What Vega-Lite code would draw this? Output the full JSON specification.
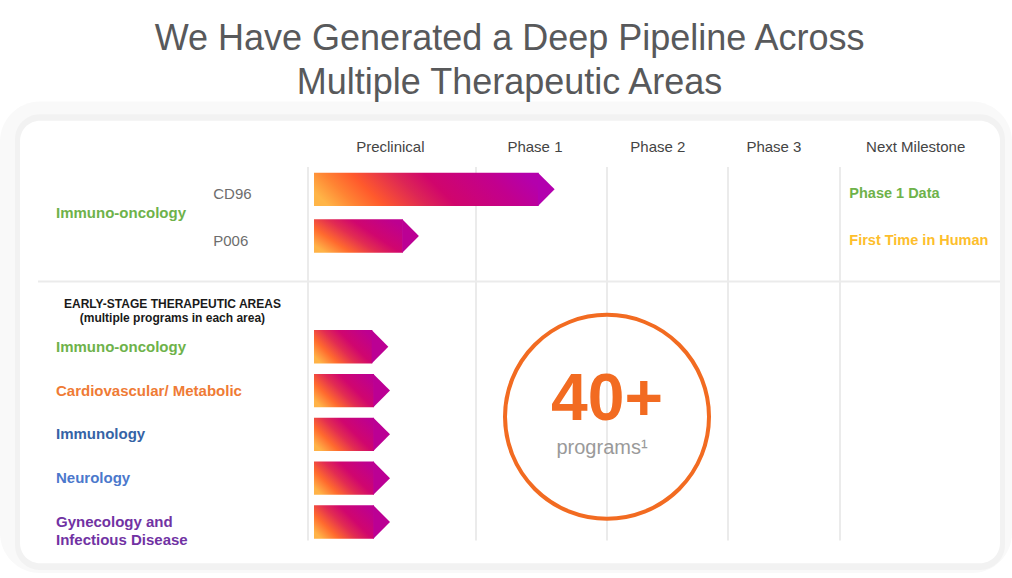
{
  "$schema": "https://vega.github.io/schema/vega-lite/v6.json",
  "width": 1012,
  "height": 578,
  "padding": 0,
  "autosize": {"type": "none"},
  "background": "#ffffff",
  "config": {"view": {"stroke": null}, "font": "Liberation Sans", "text": {"font": "Liberation Sans"}},
  "datasets": {
    "phases": [
      {"phase": "Preclinical", "boundary": 0, "headerPos": 0.49},
      {"phase": "Phase 1", "boundary": 1, "headerPos": 1.45},
      {"phase": "Phase 2", "boundary": 2, "headerPos": 2.42},
      {"phase": "Phase 3", "boundary": 3, "headerPos": 3.41},
      {"phase": "Next Milestone", "boundary": 4, "headerPos": 4.44}
    ],
    "arrows": [
      {"program": "CD96", "section": "Lead", "area": "Immuno-oncology", "label": "Immuno-oncology", "row": 1, "progress": 1.6, "milestone": "Phase 1 Data"},
      {"program": "P006", "section": "Lead", "area": "Immuno-oncology", "label": "Immuno-oncology", "row": 2, "progress": 0.66, "milestone": "First Time in Human"},
      {"program": "Early Immuno-oncology", "section": "Early", "area": "Immuno-oncology", "label": "Immuno-oncology", "row": 4.5, "progress": 0.478},
      {"program": "Early Cardiovascular/ Metabolic", "section": "Early", "area": "Cardiovascular/ Metabolic", "label": "Cardiovascular/ Metabolic", "row": 5.5, "progress": 0.488},
      {"program": "Early Immunology", "section": "Early", "area": "Immunology", "label": "Immunology", "row": 6.5, "progress": 0.488},
      {"program": "Early Neurology", "section": "Early", "area": "Neurology", "label": "Neurology", "row": 7.5, "progress": 0.488},
      {"program": "Early Gynecology and Infectious Disease", "section": "Early", "area": "Gynecology and Infectious Disease", "label": "Gynecology and\nInfectious Disease", "row": 8.5, "progress": 0.488}
    ],
    "titles": [{"title": "We Have Generated a Deep Pipeline Across\nMultiple Therapeutic Areas"}],
    "early": [{"heading": "EARLY-STAGE THERAPEUTIC AREAS\n(multiple programs in each area)"}],
    "total": [{"count": "40+", "caption": "programs¹"}],
    "blank": [{"item": "frame"}]
  },
  "layer": [
    {
      "data": {"name": "blank"},
      "mark": {"type": "rect", "fill": "#f9f9f9", "cornerRadius": 40},
      "encoding": {
        "x": {"datum": -1.8333, "type": "quantitative", "scale": {"domain": [-1.8333, 0, 1, 2, 3, 4, 5], "range": [0, 308, 476, 607, 728, 840, 1012], "nice": false, "zero": false}, "axis": null},
        "x2": {"datum": 5},
        "y": {"datum": -1.036, "type": "quantitative", "scale": {"domain": [-3.275, 0, 1, 2, 3, 9.664], "range": [0, 146.3, 189.3, 236, 281, 578], "nice": false, "zero": false}, "axis": null},
        "y2": {"datum": 9.664}
      }
    },
    {
      "data": {"name": "blank"},
      "mark": {"type": "rect", "fill": "#f2f2f2", "cornerRadius": 25},
      "encoding": {
        "x": {"datum": -1.744, "type": "quantitative", "scale": {"domain": [-1.8333, 0, 1, 2, 3, 4, 5], "range": [0, 308, 476, 607, 728, 840, 1012], "nice": false, "zero": false}, "axis": null},
        "x2": {"datum": 4.959},
        "y": {"datum": -0.743, "type": "quantitative", "scale": {"domain": [-3.275, 0, 1, 2, 3, 9.664], "range": [0, 146.3, 189.3, 236, 281, 578], "nice": false, "zero": false}, "axis": null},
        "y2": {"datum": 9.597}
      }
    },
    {
      "data": {"name": "blank"},
      "mark": {"type": "rect", "fill": "#ffffff", "cornerRadius": 20},
      "encoding": {
        "x": {"datum": -1.714, "type": "quantitative", "scale": {"domain": [-1.8333, 0, 1, 2, 3, 4, 5], "range": [0, 308, 476, 607, 728, 840, 1012], "nice": false, "zero": false}, "axis": null},
        "x2": {"datum": 4.93},
        "y": {"datum": -0.589, "type": "quantitative", "scale": {"domain": [-3.275, 0, 1, 2, 3, 9.664], "range": [0, 146.3, 189.3, 236, 281, 578], "nice": false, "zero": false}, "axis": null},
        "y2": {"datum": 9.439}
      }
    },
    {
      "data": {"name": "phases"},
      "mark": {"type": "rule", "color": "#ebebeb", "strokeWidth": 2},
      "encoding": {
        "x": {"field": "boundary", "type": "quantitative", "scale": {"domain": [-1.8333, 0, 1, 2, 3, 4, 5], "range": [0, 308, 476, 607, 728, 840, 1012], "nice": false, "zero": false}, "axis": null},
        "y": {"datum": 0.481, "type": "quantitative", "scale": {"domain": [-3.275, 0, 1, 2, 3, 9.664], "range": [0, 146.3, 189.3, 236, 281, 578], "nice": false, "zero": false}, "axis": null},
        "y2": {"datum": 8.923}
      }
    },
    {
      "data": {"name": "blank"},
      "mark": {"type": "rect", "fill": "#ebebeb"},
      "encoding": {
        "x": {"datum": -1.607, "type": "quantitative", "scale": {"domain": [-1.8333, 0, 1, 2, 3, 4, 5], "range": [0, 308, 476, 607, 728, 840, 1012], "nice": false, "zero": false}, "axis": null},
        "x2": {"datum": 4.93},
        "y": {"datum": 2.99, "type": "quantitative", "scale": {"domain": [-3.275, 0, 1, 2, 3, 9.664], "range": [0, 146.3, 189.3, 236, 281, 578], "nice": false, "zero": false}, "axis": null},
        "y2": {"datum": 3.035}
      }
    },
    {
      "data": {"name": "titles"},
      "mark": {"type": "text", "fontSize": 36, "color": "#58595b", "align": "center", "baseline": "alphabetic", "lineBreak": "\n", "lineHeight": 43.4},
      "encoding": {
        "x": {"datum": 1.256, "type": "quantitative", "scale": {"domain": [-1.8333, 0, 1, 2, 3, 4, 5], "range": [0, 308, 476, 607, 728, 840, 1012], "nice": false, "zero": false}, "axis": null},
        "y": {"datum": -2.22, "type": "quantitative", "scale": {"domain": [-3.275, 0, 1, 2, 3, 9.664], "range": [0, 146.3, 189.3, 236, 281, 578], "nice": false, "zero": false}, "axis": null},
        "text": {"field": "title", "type": "nominal"}
      }
    },
    {
      "data": {"name": "phases"},
      "mark": {"type": "text", "fontSize": 15, "color": "#444444", "align": "center", "baseline": "middle"},
      "encoding": {
        "x": {"field": "headerPos", "type": "quantitative", "scale": {"domain": [-1.8333, 0, 1, 2, 3, 4, 5], "range": [0, 308, 476, 607, 728, 840, 1012], "nice": false, "zero": false}, "axis": null},
        "y": {"datum": 0.02, "type": "quantitative", "scale": {"domain": [-3.275, 0, 1, 2, 3, 9.664], "range": [0, 146.3, 189.3, 236, 281, 578], "nice": false, "zero": false}, "axis": null},
        "text": {"field": "phase", "type": "nominal"}
      }
    },
    {
      "data": {"name": "arrows"},
      "transform": [{"filter": "datum.program === 'CD96'"}],
      "mark": {"type": "bar", "orient": "horizontal", "size": 33.3, "xOffset": -16, "x2Offset": 6,
        "fill": {"gradient": "linear", "x1": 0, "y1": 0.574, "x2": 1, "y2": 0.426, "stops": [
          {"offset": 0, "color": "#FFB547"}, {"offset": 0.12, "color": "#FF8433"}, {"offset": 0.24, "color": "#FF5A2C"},
          {"offset": 0.43, "color": "#DD2655"}, {"offset": 0.56, "color": "#D0056C"}, {"offset": 0.83, "color": "#C2008E"}, {"offset": 1, "color": "#B400AC"}]}},
      "encoding": {
        "x": {"field": "progress", "type": "quantitative", "scale": {"domain": [-1.8333, 0, 1, 2, 3, 4, 5], "range": [0, 308, 476, 607, 728, 840, 1012], "nice": false, "zero": false}, "axis": null},
        "x2": {"datum": 0},
        "y": {"field": "row", "type": "quantitative", "scale": {"domain": [-3.275, 0, 1, 2, 3, 9.664], "range": [0, 146.3, 189.3, 236, 281, 578], "nice": false, "zero": false}, "axis": null}
      }
    },
    {
      "data": {"name": "arrows"},
      "transform": [{"filter": "datum.program !== 'CD96'"}],
      "mark": {"type": "bar", "orient": "horizontal", "size": 33.3, "xOffset": -16, "x2Offset": 6,
        "fill": {"gradient": "linear", "x1": 0, "y1": 0.78, "x2": 1, "y2": 0.22, "stops": [
          {"offset": 0, "color": "#FFB347"}, {"offset": 0.22, "color": "#FF6A2E"}, {"offset": 0.45, "color": "#E22C52"},
          {"offset": 0.65, "color": "#D0066E"}, {"offset": 1, "color": "#BD0090"}]}},
      "encoding": {
        "x": {"field": "progress", "type": "quantitative", "scale": {"domain": [-1.8333, 0, 1, 2, 3, 4, 5], "range": [0, 308, 476, 607, 728, 840, 1012], "nice": false, "zero": false}, "axis": null},
        "x2": {"datum": 0},
        "y": {"field": "row", "type": "quantitative", "scale": {"domain": [-3.275, 0, 1, 2, 3, 9.664], "range": [0, 146.3, 189.3, 236, 281, 578], "nice": false, "zero": false}, "axis": null}
      }
    },
    {
      "data": {"name": "arrows"},
      "transform": [{"filter": "datum.program === 'CD96'"}],
      "mark": {"type": "point", "shape": "M-0.5,-1L0.5,0L-0.5,1Z", "size": 1109, "filled": true, "color": "#B300AE", "opacity": 1, "strokeWidth": 0, "xOffset": -8.3},
      "encoding": {
        "x": {"field": "progress", "type": "quantitative", "scale": {"domain": [-1.8333, 0, 1, 2, 3, 4, 5], "range": [0, 308, 476, 607, 728, 840, 1012], "nice": false, "zero": false}, "axis": null},
        "y": {"field": "row", "type": "quantitative", "scale": {"domain": [-3.275, 0, 1, 2, 3, 9.664], "range": [0, 146.3, 189.3, 236, 281, 578], "nice": false, "zero": false}, "axis": null}
      }
    },
    {
      "data": {"name": "arrows"},
      "transform": [{"filter": "datum.program !== 'CD96'"}],
      "mark": {"type": "point", "shape": "M-0.5,-1L0.5,0L-0.5,1Z", "size": 1109, "filled": true, "color": "#BB0094", "opacity": 1, "strokeWidth": 0, "xOffset": -8.3},
      "encoding": {
        "x": {"field": "progress", "type": "quantitative", "scale": {"domain": [-1.8333, 0, 1, 2, 3, 4, 5], "range": [0, 308, 476, 607, 728, 840, 1012], "nice": false, "zero": false}, "axis": null},
        "y": {"field": "row", "type": "quantitative", "scale": {"domain": [-3.275, 0, 1, 2, 3, 9.664], "range": [0, 146.3, 189.3, 236, 281, 578], "nice": false, "zero": false}, "axis": null}
      }
    },
    {
      "data": {"name": "arrows"},
      "transform": [{"filter": "datum.section === 'Lead'"}],
      "mark": {"type": "text", "fontSize": 15, "color": "#6d6d6d", "align": "left", "baseline": "middle", "yOffset": 4.5},
      "encoding": {
        "x": {"datum": -0.564, "type": "quantitative", "scale": {"domain": [-1.8333, 0, 1, 2, 3, 4, 5], "range": [0, 308, 476, 607, 728, 840, 1012], "nice": false, "zero": false}, "axis": null},
        "y": {"field": "row", "type": "quantitative", "scale": {"domain": [-3.275, 0, 1, 2, 3, 9.664], "range": [0, 146.3, 189.3, 236, 281, 578], "nice": false, "zero": false}, "axis": null},
        "text": {"field": "program", "type": "nominal"}
      }
    },
    {
      "data": {"name": "arrows"},
      "transform": [{"filter": "datum.section === 'Lead'"}],
      "mark": {"type": "text", "fontSize": 14.5, "fontWeight": "bold", "align": "left", "baseline": "middle", "yOffset": 4.5},
      "encoding": {
        "x": {"datum": 4.054, "type": "quantitative", "scale": {"domain": [-1.8333, 0, 1, 2, 3, 4, 5], "range": [0, 308, 476, 607, 728, 840, 1012], "nice": false, "zero": false}, "axis": null},
        "y": {"field": "row", "type": "quantitative", "scale": {"domain": [-3.275, 0, 1, 2, 3, 9.664], "range": [0, 146.3, 189.3, 236, 281, 578], "nice": false, "zero": false}, "axis": null},
        "text": {"field": "milestone", "type": "nominal"},
        "color": {"field": "milestone", "type": "nominal", "scale": {"domain": ["Immuno-oncology", "Cardiovascular/ Metabolic", "Immunology", "Neurology", "Gynecology and Infectious Disease", "Phase 1 Data", "First Time in Human"], "range": ["#6EB24A", "#EF7B35", "#3563A6", "#4B78CC", "#7132A3", "#6EB24A", "#FDBE2C"]}, "legend": null}
      }
    },
    {
      "data": {"name": "arrows"},
      "transform": [
        {"filter": "datum.section === 'Lead'"},
        {"aggregate": [{"op": "mean", "field": "row", "as": "row"}], "groupby": ["area"]}
      ],
      "mark": {"type": "text", "fontSize": 15, "fontWeight": "bold", "align": "left", "baseline": "middle"},
      "encoding": {
        "x": {"datum": -1.5, "type": "quantitative", "scale": {"domain": [-1.8333, 0, 1, 2, 3, 4, 5], "range": [0, 308, 476, 607, 728, 840, 1012], "nice": false, "zero": false}, "axis": null},
        "y": {"field": "row", "type": "quantitative", "scale": {"domain": [-3.275, 0, 1, 2, 3, 9.664], "range": [0, 146.3, 189.3, 236, 281, 578], "nice": false, "zero": false}, "axis": null},
        "text": {"field": "area", "type": "nominal"},
        "color": {"field": "area", "type": "nominal", "legend": null}
      }
    },
    {
      "data": {"name": "arrows"},
      "transform": [{"filter": "datum.section === 'Early'"}],
      "mark": {"type": "text", "fontSize": 15, "fontWeight": "bold", "align": "left", "baseline": "middle", "lineBreak": "\n", "lineHeight": 18},
      "encoding": {
        "x": {"datum": -1.5, "type": "quantitative", "scale": {"domain": [-1.8333, 0, 1, 2, 3, 4, 5], "range": [0, 308, 476, 607, 728, 840, 1012], "nice": false, "zero": false}, "axis": null},
        "y": {"field": "row", "type": "quantitative", "scale": {"domain": [-3.275, 0, 1, 2, 3, 9.664], "range": [0, 146.3, 189.3, 236, 281, 578], "nice": false, "zero": false}, "axis": null},
        "text": {"field": "label", "type": "nominal"},
        "color": {"field": "area", "type": "nominal", "legend": null}
      }
    },
    {
      "data": {"name": "early"},
      "mark": {"type": "text", "fontSize": 12, "fontWeight": "bold", "color": "#1a1a1a", "align": "center", "baseline": "middle", "lineBreak": "\n", "lineHeight": 14.6},
      "encoding": {
        "x": {"datum": -0.807, "type": "quantitative", "scale": {"domain": [-1.8333, 0, 1, 2, 3, 4, 5], "range": [0, 308, 476, 607, 728, 840, 1012], "nice": false, "zero": false}, "axis": null},
        "y": {"datum": 3.52, "type": "quantitative", "scale": {"domain": [-3.275, 0, 1, 2, 3, 9.664], "range": [0, 146.3, 189.3, 236, 281, 578], "nice": false, "zero": false}, "axis": null},
        "text": {"field": "heading", "type": "nominal"}
      }
    },
    {
      "data": {"name": "total"},
      "mark": {"type": "point", "shape": "circle", "size": 41616, "filled": false, "color": "#F26B21", "strokeWidth": 4, "opacity": 1},
      "encoding": {
        "x": {"datum": 2, "type": "quantitative", "scale": {"domain": [-1.8333, 0, 1, 2, 3, 4, 5], "range": [0, 308, 476, 607, 728, 840, 1012], "nice": false, "zero": false}, "axis": null},
        "y": {"datum": 6.1, "type": "quantitative", "scale": {"domain": [-3.275, 0, 1, 2, 3, 9.664], "range": [0, 146.3, 189.3, 236, 281, 578], "nice": false, "zero": false}, "axis": null}
      }
    },
    {
      "data": {"name": "total"},
      "mark": {"type": "text", "fontSize": 66, "fontWeight": "bold", "color": "#F26B21", "align": "center", "baseline": "alphabetic"},
      "encoding": {
        "x": {"datum": 2, "type": "quantitative", "scale": {"domain": [-1.8333, 0, 1, 2, 3, 4, 5], "range": [0, 308, 476, 607, 728, 840, 1012], "nice": false, "zero": false}, "axis": null},
        "y": {"datum": 6.179, "type": "quantitative", "scale": {"domain": [-3.275, 0, 1, 2, 3, 9.664], "range": [0, 146.3, 189.3, 236, 281, 578], "nice": false, "zero": false}, "axis": null},
        "text": {"field": "count", "type": "nominal"}
      }
    },
    {
      "data": {"name": "total"},
      "mark": {"type": "text", "fontSize": 20, "color": "#9a9a9a", "align": "center", "baseline": "alphabetic", "dx": -5},
      "encoding": {
        "x": {"datum": 2, "type": "quantitative", "scale": {"domain": [-1.8333, 0, 1, 2, 3, 4, 5], "range": [0, 308, 476, 607, 728, 840, 1012], "nice": false, "zero": false}, "axis": null},
        "y": {"datum": 6.942, "type": "quantitative", "scale": {"domain": [-3.275, 0, 1, 2, 3, 9.664], "range": [0, 146.3, 189.3, 236, 281, 578], "nice": false, "zero": false}, "axis": null},
        "text": {"field": "caption", "type": "nominal"}
      }
    }
  ]
}
